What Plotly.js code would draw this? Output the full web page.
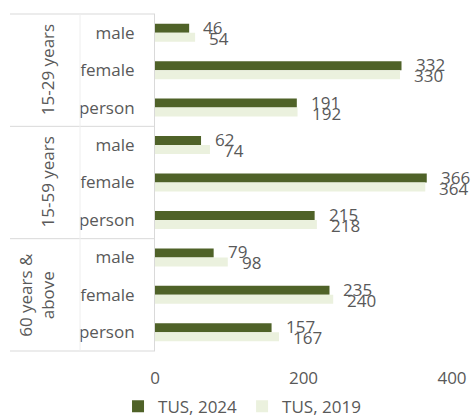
<!DOCTYPE html>
<html>
<head>
<meta charset="utf-8">
<script src="https://cdn.plot.ly/plotly-3.0.1.min.js"></script>
<style>html,body{margin:0;padding:0;background:#fff;}#chart{width:471px;height:417px;}</style>
</head>
<body>
<div id="chart"></div>
<script>
// ---- data ----
const groups = ["15-29 years", "15-59 years", "60 years &<br>above"];
const subgroups = ["male", "female", "person"];
const tus2024 = [46, 332, 191, 62, 366, 215, 79, 235, 157];
const tus2019 = [54, 330, 192, 74, 364, 218, 98, 240, 167];
const seriesNames = ["TUS, 2024", "TUS, 2019"];
const xTicks = [0, 200, 400];

// ---- derived ----
const rowLabels = [];
groups.forEach(() => subgroups.forEach(s => rowLabels.push(s)));
const rows = rowLabels.map((_, i) => i);
const nRows = rows.length;

const darkC = "#4F6228", lightC = "#EBF1DE", textC = "#595959", lineC = "#D9D9D9";
const font = "Open Sans, sans-serif";
const fs = 17;

const traces = [
  {type: "bar", orientation: "h", name: seriesNames[0], x: tus2024, y: rows,
   marker: {color: darkC}, hoverinfo: "skip"},
  {type: "bar", orientation: "h", name: seriesNames[1], x: tus2019, y: rows,
   marker: {color: lightC}, hoverinfo: "skip"}
];

const annotations = [];
tus2024.forEach((v, i) => annotations.push({x: v, y: i, xref: "x", yref: "y", text: String(v),
  showarrow: false, xanchor: "left", yanchor: "middle", xshift: 12, yshift: 5.5,
  font: {family: font, size: fs, color: textC}}));
tus2019.forEach((v, i) => annotations.push({x: v, y: i, xref: "x", yref: "y", text: String(v),
  showarrow: false, xanchor: "left", yanchor: "middle", xshift: 12, yshift: -5.5,
  font: {family: font, size: fs, color: textC}}));

// group labels (rotated)
const plotL = 155, plotW = 297;
groups.forEach((g, gi) => {
  const mid = gi * subgroups.length + (subgroups.length - 1) / 2;
  const px = g.indexOf("<br>") >= 0 ? 37 : 47;
  annotations.push({x: (px - plotL) / plotW, xref: "paper", y: mid, yref: "y",
    text: g, showarrow: false, textangle: -90, xanchor: "center", yanchor: "middle",
    font: {family: font, size: fs, color: textC}});
});

// table lines
const shapes = [];
const leftX = (10 - plotL) / plotW;
for (let gi = 0; gi <= groups.length; gi++) {
  const yp = 1 - (gi * subgroups.length) / nRows;
  shapes.push({type: "line", xref: "paper", yref: "paper", x0: leftX, x1: 0, y0: yp, y1: yp,
    line: {color: lineC, width: 1}});
}
shapes.push({type: "line", xref: "paper", yref: "paper", x0: (80 - plotL) / plotW, x1: (80 - plotL) / plotW,
  y0: 0, y1: 1, line: {color: "#EEEEEE", width: 1}});

const layout = {
  width: 471, height: 417,
  margin: {l: plotL, r: 471 - plotL - plotW, t: 14, b: 66, autoexpand: false},
  paper_bgcolor: "#fff", plot_bgcolor: "#fff",
  barmode: "group", bargap: 0.52, bargroupgap: 0,
  font: {family: font, color: textC, size: fs},
  showlegend: true,
  legend: {orientation: "h", x: 0.293, xanchor: "center", y: -0.165, yanchor: "middle",
    font: {family: font, size: fs, color: textC}, traceorder: "normal"},
  xaxis: {range: [0, 400], tickvals: xTicks, ticktext: xTicks.map(String), showgrid: false,
    zeroline: false, showline: false, ticks: "outside", ticklen: 12, tickcolor: "rgba(0,0,0,0)",
    tickfont: {family: font, size: fs, color: textC}, fixedrange: true, automargin: false},
  yaxis: {range: [nRows - 0.5, -0.5], tickvals: rows, ticktext: rowLabels, showgrid: false,
    zeroline: false, showline: true, linecolor: lineC, linewidth: 1,
    ticks: "outside", ticklen: 16, tickcolor: "rgba(0,0,0,0)",
    tickfont: {family: font, size: fs, color: textC}, fixedrange: true, automargin: false},
  annotations: annotations,
  shapes: shapes
};

Plotly.newPlot("chart", traces, layout, {staticPlot: true, displayModeBar: false});
</script>
</body>
</html>
